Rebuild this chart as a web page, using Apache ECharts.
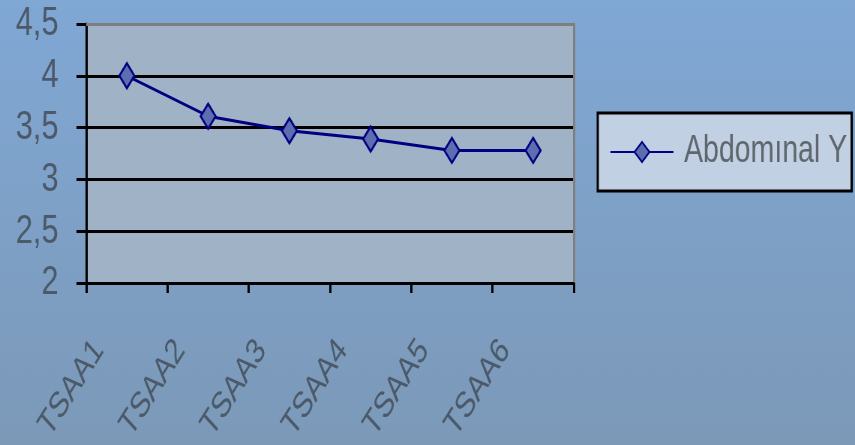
<!DOCTYPE html>
<html>
<head>
<meta charset="utf-8">
<script src="https://cdn.jsdelivr.net/npm/echarts@6/dist/echarts.min.js"></script>
<style>
  html, body { margin: 0; padding: 0; overflow: hidden; }
  #frame { width: 855px; height: 445px; overflow: hidden; }
  /* the chart is laid out wide and condensed horizontally to fit the frame */
  #chart { width: 1140px; height: 445px; transform: scaleX(0.75); transform-origin: 0 0; }
</style>
</head>
<body>
<div id="frame"><div id="chart"></div></div>
<script>
// Measurement sessions and the averaged score for each
const categories = ['TSAA1', 'TSAA2', 'TSAA3', 'TSAA4', 'TSAA5', 'TSAA6'];
const seriesName = 'Abdomınal Y';
const seriesValues = [4.0, 3.61, 3.47, 3.39, 3.28, 3.28];
const yTicks = { min: 2, max: 4.5, step: 0.5 };

const sans = '"Liberation Sans", Arial, sans-serif';
const labelGrey = '#4b5968';

const chart = echarts.init(document.getElementById('chart'));

chart.setOption({
  animation: false,
  backgroundColor: {
    type: 'linear', x: 0, y: 0, x2: 0, y2: 1,
    colorStops: [
      { offset: 0, color: '#80a8d5' },
      { offset: 1, color: '#7c99b8' }
    ]
  },
  grid: {
    left: 115, top: 24, right: 375, bottom: 162,
    outerBoundsMode: 'none',
    containLabel: false,
    show: true,
    backgroundColor: '#a0b2c5',
    borderWidth: 0
  },
  legend: {
    left: 797, top: 113,
    orient: 'vertical',
    padding: [20, 6, 20, 16],
    backgroundColor: '#c1d1e3',
    borderColor: '#000000',
    borderWidth: 3,
    itemWidth: 84,
    itemHeight: 25,
    textStyle: { fontFamily: sans, fontSize: 38, color: '#5f666e', padding: [0, 0, 0, 9] },
    data: [seriesName]
  },
  xAxis: [{
    type: 'category',
    data: categories,
    boundaryGap: true,
    axisLine: { lineStyle: { color: '#000', width: 3 } },
    axisTick: { show: true, length: 10, lineStyle: { color: '#000', width: 3 } },
    axisLabel: {
      rotate: 50,
      margin: 17,
      padding: [0, 58, 0, 0],
      interval: 0,
      fontFamily: sans,
      fontSize: 36,
      color: labelGrey
    },
    splitLine: { show: false }
  }, {
    type: 'category',
    data: categories,
    position: 'top',
    axisLine: { lineStyle: { color: '#7f7f7f', width: 3 } },
    axisTick: { show: false },
    axisLabel: { show: false }
  }],
  yAxis: [{
    type: 'value',
    min: yTicks.min,
    max: yTicks.max,
    interval: yTicks.step,
    axisLine: { show: true, lineStyle: { color: '#000', width: 3 } },
    axisTick: { show: true, length: 13, lineStyle: { color: '#000', width: 3 } },
    axisLabel: {
      margin: 37,
      fontFamily: sans,
      fontSize: 41,
      color: labelGrey,
      formatter: v => String(v).replace('.', ',')
    },
    splitLine: {
      show: true,
      showMaxLine: false,
      lineStyle: { color: '#000', width: 3 }
    }
  }, {
    type: 'value',
    min: yTicks.min,
    max: yTicks.max,
    interval: yTicks.step,
    position: 'right',
    axisLine: { show: true, lineStyle: { color: '#7f7f7f', width: 3 } },
    axisTick: { show: false },
    axisLabel: { show: false },
    splitLine: { show: false }
  }],
  series: [{
    name: seriesName,
    type: 'line',
    data: seriesValues,
    symbol: 'diamond',
    symbolSize: [20, 25],
    lineStyle: { color: '#000080', width: 3 },
    itemStyle: { color: '#5c6db0', borderColor: '#000080', borderWidth: 2.5 },
    z: 5
  }]
});
</script>
</body>
</html>
